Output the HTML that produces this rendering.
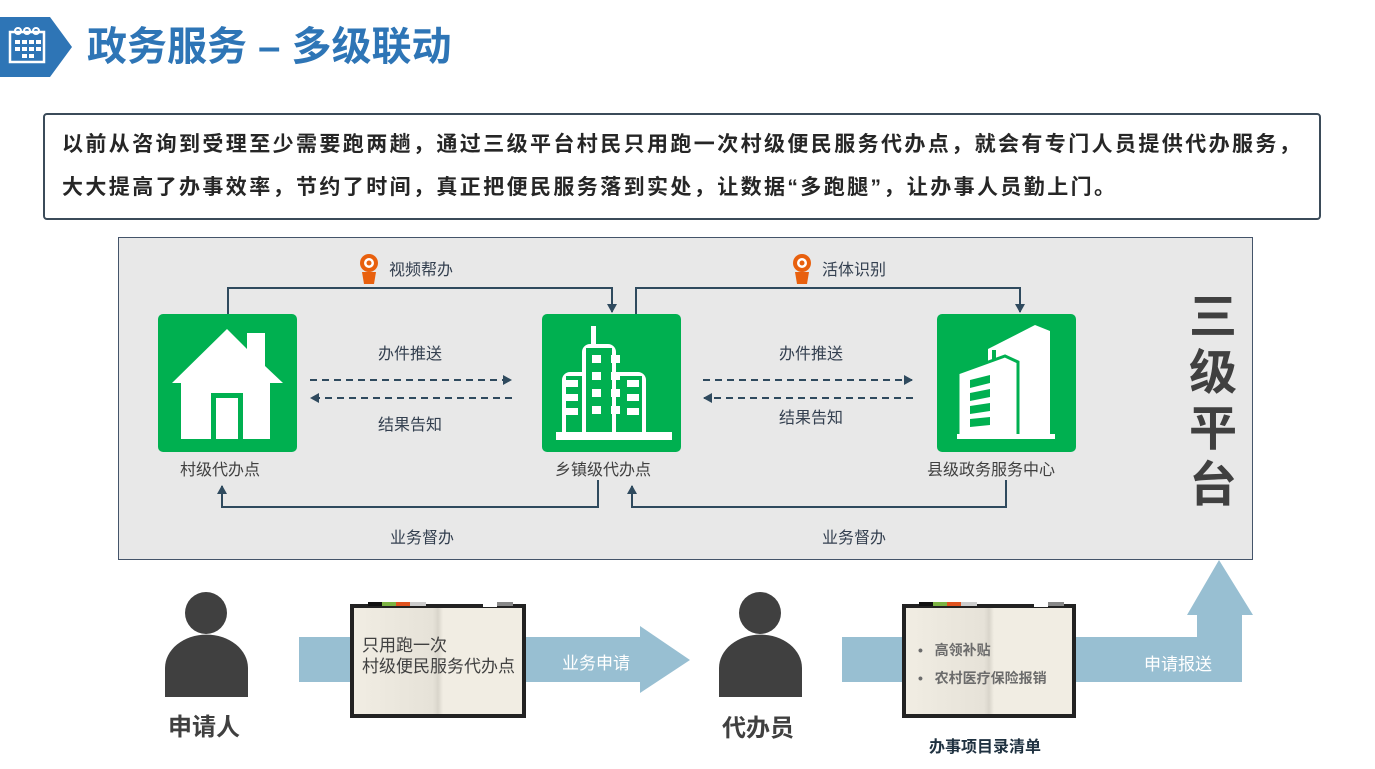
<!DOCTYPE html>
<html><head><meta charset="utf-8"><style>
body{margin:0;width:1375px;height:769px;background:#fff;position:relative;overflow:hidden;font-family:"Liberation Sans","Noto Sans CJK SC",sans-serif}
.a{position:absolute;white-space:nowrap}
</style></head><body>
<svg class="a" style="left:0;top:0" width="1375" height="769" viewBox="0 0 1375 769">
<defs>
<marker id="ar" markerWidth="10" markerHeight="10" refX="8" refY="5" orient="auto" markerUnits="userSpaceOnUse"><path d="M0,0 L9,5 L0,10 z" fill="#2f4a5e"/></marker>
<linearGradient id="pg" x1="0" x2="1"><stop offset="0" stop-color="#f1ede3"/><stop offset="0.47" stop-color="#e6e2d8"/><stop offset="0.5" stop-color="#d9d5cb"/><stop offset="0.53" stop-color="#f1ede3"/><stop offset="1" stop-color="#f1ede3"/></linearGradient>
</defs>
<path d="M0,17 L50,17 L72,47 L50,77 L0,77 z" fill="#2e75b6"/>
<rect x="10" y="32" width="34" height="30" fill="none" stroke="#fff" stroke-width="2.5"/>
<g fill="#fff"><rect x="15" y="40" width="5" height="4"/><rect x="22" y="40" width="5" height="4"/><rect x="29" y="40" width="5" height="4"/><rect x="36" y="40" width="5" height="4"/><rect x="15" y="47" width="5" height="4"/><rect x="22" y="47" width="5" height="4"/><rect x="29" y="47" width="5" height="4"/><rect x="36" y="47" width="5" height="4"/><rect x="22" y="54" width="5" height="4"/><rect x="29" y="54" width="5" height="4"/></g>
<g fill="none" stroke="#fff" stroke-width="2"><circle cx="18" cy="31" r="3"/><circle cx="27" cy="31" r="3"/><circle cx="36" cy="31" r="3"/></g>
<rect x="44" y="114" width="1276" height="105" rx="3" fill="#fff" stroke="#3b4b59" stroke-width="2"/>
<rect x="118.5" y="237.5" width="1134" height="322" fill="#e8e8e8" stroke="#44546a" stroke-width="1"/>
<rect x="158" y="314" width="139" height="138" rx="5" fill="#00b050"/>
<rect x="542" y="314" width="139" height="138" rx="5" fill="#00b050"/>
<rect x="937" y="314" width="139" height="138" rx="5" fill="#00b050"/>
<path d="M172,383 L227,329 L247,349 L247,333 L265,333 L265,366 L283,383 L270,383 L270,439 L181,439 L181,383 z" fill="#fff"/>
<rect x="211" y="393" width="32" height="46" fill="#00b050"/><rect x="216" y="398" width="22" height="41" fill="#fff"/>
<g fill="#fff"><rect x="556" y="432" width="116" height="8"/><rect x="591" y="326" width="5" height="18"/>
<path d="M582,432 V352 a8,8 0 0 1 8,-8 h18 a8,8 0 0 1 8,8 V432 h-4 V348 h-26 V432 z"/>
<path d="M562,432 V380 a8,8 0 0 1 8,-8 h12 v4 h-16 V432 z"/><path d="M646,432 V380 a8,8 0 0 0 -8,-8 h-22 v4 h26 V432 z"/>
</g>
<g fill="#fff"><rect x="592" y="355" width="9" height="8"/><rect x="611" y="355" width="9" height="8"/><rect x="592" y="372" width="9" height="8"/><rect x="611" y="372" width="9" height="8"/><rect x="592" y="389" width="9" height="8"/><rect x="611" y="389" width="9" height="8"/><rect x="592" y="406" width="9" height="8"/><rect x="611" y="406" width="9" height="8"/>
<rect x="566" y="380" width="12" height="7"/><rect x="566" y="394" width="12" height="7"/><rect x="566" y="408" width="12" height="7"/><rect x="627" y="380" width="12" height="7"/><rect x="627" y="394" width="12" height="7"/><rect x="627" y="408" width="12" height="7"/></g>
<g fill="#fff"><path d="M988,437 V349 L1035,325 L1050,331 V437 z"/><path d="M958,437 V373 L1005,356 L1018,362 V437 z" stroke="#00b050" stroke-width="3"/>
<rect x="957" y="434" width="98" height="5"/></g>
<g fill="#00b050"><path d="M970,380 L990,375 V383 L970,388 z"/><path d="M970,393 L990,389 V397 L970,401 z"/><path d="M970,406 L990,403 V411 L970,414 z"/><path d="M970,419 L990,417 V425 L970,427 z"/><rect x="992" y="350" width="4" height="10"/></g>
<g fill="none" stroke="#2f4a5e" stroke-width="2">
<path d="M228,314 V288 H612 V312" marker-end="url(#ar)"/>
<path d="M636,314 V288 H1020 V312" marker-end="url(#ar)"/>
<path d="M598,480 V507 H222 V486" marker-end="url(#ar)"/>
<path d="M1006,480 V507 H632 V486" marker-end="url(#ar)"/>
<g stroke-dasharray="7,5"><path d="M310,380 H511" marker-end="url(#ar)"/><path d="M512,398 H311" marker-end="url(#ar)"/><path d="M703,380 H912" marker-end="url(#ar)"/><path d="M913,398 H704" marker-end="url(#ar)"/></g>
</g>
<g><circle cx="369" cy="263" r="9" fill="#e8600e"/><circle cx="369" cy="263" r="5" fill="#fff"/><circle cx="369" cy="263" r="2.5" fill="#e8600e"/><path d="M362,272 L364,284 L374,284 L376,272 z" fill="#e8600e"/></g>
<g><circle cx="802" cy="263" r="9" fill="#e8600e"/><circle cx="802" cy="263" r="5" fill="#fff"/><circle cx="802" cy="263" r="2.5" fill="#e8600e"/><path d="M795,272 L797,284 L807,284 L809,272 z" fill="#e8600e"/></g>
<path d="M299,637 H640 V626 L690,660 L640,693 V682 H299 z" fill="#98bfd2"/>
<path d="M842,637 H1197 V615 H1187 L1219,560 L1253,615 H1242 V682 H842 z" fill="#98bfd2"/>
<g fill="#404040"><circle cx="206" cy="613" r="21"/><path d="M165,697 V668 a41,33 0 0 1 83,0 V697 z"/>
<circle cx="760" cy="613" r="21"/><path d="M719,697 V668 a41,33 0 0 1 83,0 V697 z"/></g>
<g>
<rect x="350" y="604" width="176" height="114" fill="#222"/><rect x="354" y="608" width="168" height="106" fill="url(#pg)"/>
<rect x="368" y="602" width="14" height="4" fill="#111"/><rect x="382" y="602" width="14" height="4" fill="#7cb342"/><rect x="396" y="602" width="14" height="4" fill="#e0531f"/><rect x="410" y="602" width="16" height="4" fill="#ccc"/><rect x="497" y="602" width="16" height="4" fill="#888"/><rect x="483" y="604" width="14" height="3" fill="#fff"/>
</g>
<g>
<rect x="902" y="604" width="174" height="114" fill="#222"/><rect x="906" y="608" width="166" height="106" fill="url(#pg)"/>
<rect x="919" y="602" width="14" height="4" fill="#111"/><rect x="933" y="602" width="14" height="4" fill="#7cb342"/><rect x="947" y="602" width="14" height="4" fill="#e0531f"/><rect x="961" y="602" width="16" height="4" fill="#ccc"/><rect x="1048" y="602" width="16" height="4" fill="#888"/><rect x="1034" y="604" width="14" height="3" fill="#fff"/>
</g>
</svg>
<div class="a" style="left:87px;top:21px;font-size:40px;font-weight:bold;color:#2e75b6;line-height:52px">政务服务 – 多级联动</div>
<div class="a" style="left:62px;top:123px;font-size:21px;letter-spacing:2.4px;font-weight:bold;color:#262626;line-height:43px">以前从咨询到受理至少需要跑两趟，通过三级平台村民只用跑一次村级便民服务代办点，就会有专门人员提供代办服务，<br>大大提高了办事效率，节约了时间，真正把便民服务落到实处，让数据“多跑腿”，让办事人员勤上门。</div>
<div class="a" style="left:389px;top:256px;font-size:16px;color:#333f4f">视频帮办</div>
<div class="a" style="left:822px;top:256px;font-size:16px;color:#333f4f">活体识别</div>
<div class="a" style="left:378px;top:340px;font-size:16px;color:#333f4f">办件推送</div>
<div class="a" style="left:378px;top:411px;font-size:16px;color:#333f4f">结果告知</div>
<div class="a" style="left:779px;top:340px;font-size:16px;color:#333f4f">办件推送</div>
<div class="a" style="left:779px;top:404px;font-size:16px;color:#333f4f">结果告知</div>
<div class="a" style="left:180px;top:456px;font-size:16px;color:#404040">村级代办点</div>
<div class="a" style="left:555px;top:456px;font-size:16px;color:#404040">乡镇级代办点</div>
<div class="a" style="left:927px;top:456px;font-size:16px;color:#404040">县级政务服务中心</div>
<div class="a" style="left:390px;top:524px;font-size:16px;color:#333f4f">业务督办</div>
<div class="a" style="left:822px;top:524px;font-size:16px;color:#333f4f">业务督办</div>
<div class="a" style="left:1188px;top:290px;width:50px;text-align:center;font-size:48px;font-weight:bold;color:#404040;line-height:56px">三<br>级<br>平<br>台</div>
<div class="a" style="left:362px;top:635px;font-size:17px;color:#404040;line-height:21px">只用跑一次<br>村级便民服务代办点</div>
<div class="a" style="left:562px;top:649px;font-size:17px;color:#fff">业务申请</div>
<div class="a" style="left:1144px;top:650px;font-size:17px;color:#fff">申请报送</div>
<div class="a" style="left:918px;top:636px;font-size:14px;font-weight:bold;color:#6b6b6b;line-height:28px">•&nbsp;&nbsp;&nbsp;高领补贴<br>•&nbsp;&nbsp;&nbsp;农村医疗保险报销</div>
<div class="a" style="left:168px;top:707px;font-size:24px;font-weight:bold;color:#404040">申请人</div>
<div class="a" style="left:722px;top:708px;font-size:24px;font-weight:bold;color:#404040">代办员</div>
<div class="a" style="left:929px;top:733px;font-size:16px;font-weight:bold;color:#1f3140">办事项目录清单</div>
</body></html>
